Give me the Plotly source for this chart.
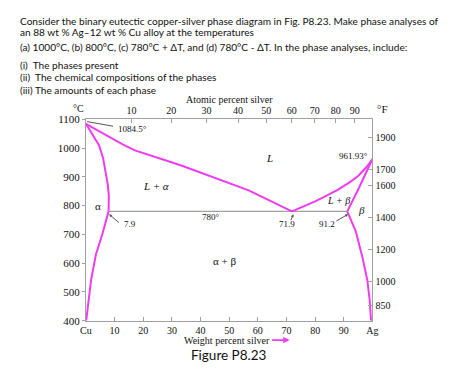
import plotly.graph_objects as go

# ---------------- data ----------------
liq_left_wt = [0, 1.5, 3.5, 6, 9.2, 13, 17.1, 22, 28.5, 34, 39.8, 47, 56.8, 64, 71.9]
liq_left_T = [1084.5, 1076, 1065, 1049, 1033, 1012, 992, 975, 955, 937, 915, 888, 853, 818, 780]

liq_right_wt = [71.9, 76, 80, 84, 88, 92, 95, 98, 100]
liq_right_T = [780, 797, 815, 835, 856, 881, 903, 935, 961.93]

sol_left_wt = [0, 2.2, 4.6, 6.0, 6.9, 7.6, 8.0, 8.0, 7.9]
sol_left_T = [1084.5, 1050, 1009, 965, 919, 875, 835, 800, 780]

solv_left_wt = [7.9, 5.8, 3.5, 1.8, 0.7, 0.1]
solv_left_T = [780, 703, 631, 542, 451, 400]

sol_right_wt = [91.2, 95.3, 100]
sol_right_T = [780, 862, 961.93]

solv_right_wt = [91.2, 94.2, 96.5, 98.2, 99.0, 99.5]
solv_right_T = [780, 710, 620, 541, 474, 400]

eutectic_wt = [7.9, 91.2]
eutectic_T = [780, 780]

wt_ticks = [0, 10, 20, 30, 40, 50, 60, 70, 80, 90, 100]
wt_labels = ["Cu", "10", "20", "30", "40", "50", "60", "70", "80", "90", "Ag"]
at_ticks = [10, 20, 30, 40, 50, 60, 70, 80, 90]
c_ticks = [400, 500, 600, 700, 800, 900, 1000, 1100]
f_ticks = [1900, 1700, 1600, 1400, 1200, 1000, 850]

M_AG, M_CU = 107.87, 63.55

def at_to_wt(a):
    return 100 * a * M_AG / (a * M_AG + (100 - a) * M_CU)

def f_to_c(f):
    return (f - 32) * 5 / 9

# ---------------- figure ----------------
W, H = 474, 380
X0, X1, Y0, Y1 = 82, 376, 117, 325
MAG = "#f03cf0"
GRAY = "#a0a0a0"
SERIF = "Liberation Serif, Times New Roman, serif"
SANS = "Lato, Open Sans, sans-serif"

fig = go.Figure()

def add_curve(x, y, color=MAG, width=2):
    fig.add_trace(go.Scatter(x=x, y=y, mode="lines", line=dict(color=color, width=width),
                             hoverinfo="skip", showlegend=False))

add_curve(eutectic_wt, eutectic_T, GRAY, 1.3)
add_curve(liq_left_wt, liq_left_T)
add_curve(liq_right_wt, liq_right_T)
add_curve(sol_left_wt, sol_left_T)
add_curve(solv_left_wt, solv_left_T)
add_curve(sol_right_wt, sol_right_T)
add_curve(solv_right_wt, solv_right_T)

# invisible traces to activate secondary axes
fig.add_trace(go.Scatter(x=[0], y=[400], xaxis="x2", yaxis="y", mode="markers",
                         marker=dict(opacity=0), hoverinfo="skip", showlegend=False))
fig.add_trace(go.Scatter(x=[0], y=[400], xaxis="x", yaxis="y2", mode="markers",
                         marker=dict(opacity=0), hoverinfo="skip", showlegend=False))

xdom = [X0 / W, X1 / W]
ydom = [1 - Y1 / H, 1 - Y0 / H]
tickfont_l = dict(family=SERIF, size=11, color="#111")
tickfont_s = dict(family=SERIF, size=10, color="#111")

fig.update_layout(
    width=W, height=H, margin=dict(l=0, r=0, t=0, b=0),
    paper_bgcolor="white", plot_bgcolor="white",
    xaxis=dict(domain=xdom, range=[0, 100], showgrid=False, zeroline=False,
               showline=True, linecolor=GRAY, linewidth=1,
               tickmode="array", tickvals=wt_ticks, ticktext=wt_labels,
               ticks="inside", ticklen=4, tickcolor=GRAY, tickfont=tickfont_s),
    xaxis2=dict(domain=xdom, range=[0, 100], overlaying="x", side="top", anchor="y",
                showgrid=False, zeroline=False, showline=True, linecolor=GRAY, linewidth=1,
                tickmode="array", tickvals=[at_to_wt(a) for a in at_ticks],
                ticktext=[str(a) for a in at_ticks],
                ticks="inside", ticklen=4, tickcolor=GRAY, tickfont=tickfont_s),
    yaxis=dict(domain=ydom, range=[400, 1100], showgrid=False, zeroline=False,
               showline=True, linecolor=GRAY, linewidth=1,
               tickmode="array", tickvals=c_ticks, ticktext=[str(c) for c in c_ticks],
               ticks="outside", ticklen=3, tickcolor=GRAY, tickfont=tickfont_l),
    yaxis2=dict(domain=ydom, range=[400, 1100], overlaying="y", side="right", anchor="x",
                showgrid=False, zeroline=False, showline=True, linecolor=GRAY, linewidth=1,
                tickmode="array", tickvals=[f_to_c(f) for f in f_ticks],
                ticktext=[str(f) for f in f_ticks],
                ticks="inside", ticklen=4, tickcolor=GRAY, tickfont=tickfont_s),
)

ann = []

def dtext(x, y, s, size=11, xanchor="center", italic=False):
    ann.append(dict(x=x, y=y, xref="x", yref="y", text=s, showarrow=False, xanchor=xanchor,
                    yanchor="middle",
                    font=dict(family=SERIF, size=size, color="#111",
                              style="italic" if italic else "normal")))

def leader(x, y, ax, ay, head=0):
    ann.append(dict(x=x, y=y, ax=ax, ay=ay, xref="x", yref="y", axref="x", ayref="y",
                    text="", showarrow=True, arrowhead=head, arrowsize=0.6,
                    arrowwidth=1, arrowcolor="#555"))

dtext(64.2, 966, "L", italic=True)
dtext(24.5, 868, "L + α", italic=True)
dtext(4.3, 800, "α")
dtext(43.8, 762, "780°", size=9)
dtext(48.3, 607, "α + β", size=11)
dtext(88.0, 817, "L + β", italic=True, size=10)
dtext(96.2, 785, "β", italic=True)
dtext(10.5, 1066, "1084.5°", size=9, xanchor="left")
dtext(99.2, 971, "961.93°", size=9, xanchor="right")
dtext(15.5, 735, "7.9", size=9)
dtext(70.2, 735, "71.9", size=9)
dtext(84.0, 735, "91.2", size=9)
leader(0.4, 1092, 10, 1075)
leader(8.1, 770, 12, 737, head=2)
leader(72.4, 770, 71.3, 744, head=2)
leader(91.5, 770, 86.9, 744, head=2)

def ptext(x, y, s, size, family, xanchor="center", bold=False):
    ann.append(dict(x=x / W, y=1 - y / H, xref="paper", yref="paper", text=s,
                    showarrow=False, xanchor=xanchor, yanchor="middle",
                    font=dict(family=family, size=size, color="#111",
                              weight="bold" if bold else "normal")))

ptext(229, 97, "Atomic percent silver", 10, SERIF)
ptext(226.5, 345, "Weight percent silver", 10, SERIF)
ptext(229, 360, "Figure P8.23", 13.5, SANS)
ptext(74, 105.5, "°C", 10, SERIF)
ptext(386, 106, "°F", 11, SERIF)

# arrow after x title
ann.append(dict(x=291 / W, y=1 - 345 / H, ax=-19, ay=0,
                xref="paper", yref="paper", axref="pixel", ayref="pixel",
                text="", showarrow=True, arrowhead=2, arrowsize=0.8, arrowwidth=1.6,
                arrowcolor=MAG))

lines = [
    (15, "Consider the binary eutectic copper-silver phase diagram in Fig. P8.23. Make phase analyses of"),
    (27, "an 88 wt % Ag–12 wt % Cu alloy at the temperatures"),
    (42, "(a) 1000°C, (b) 800°C, (c) 780°C + ΔT, and (d) 780°C - ΔT. In the phase analyses, include:"),
    (61, "(i)  The phases present"),
    (73, "(ii)  The chemical compositions of the phases"),
    (87, "(iii) The amounts of each phase"),
]
for y, s in lines:
    ptext(12, y, s, 10.1, SANS, xanchor="left")

fig.update_layout(annotations=ann)
fig.write_html("out.html", config={"displayModeBar": False},
               post_script="document.body.style.margin='0px';document.body.style.overflow='hidden';")
